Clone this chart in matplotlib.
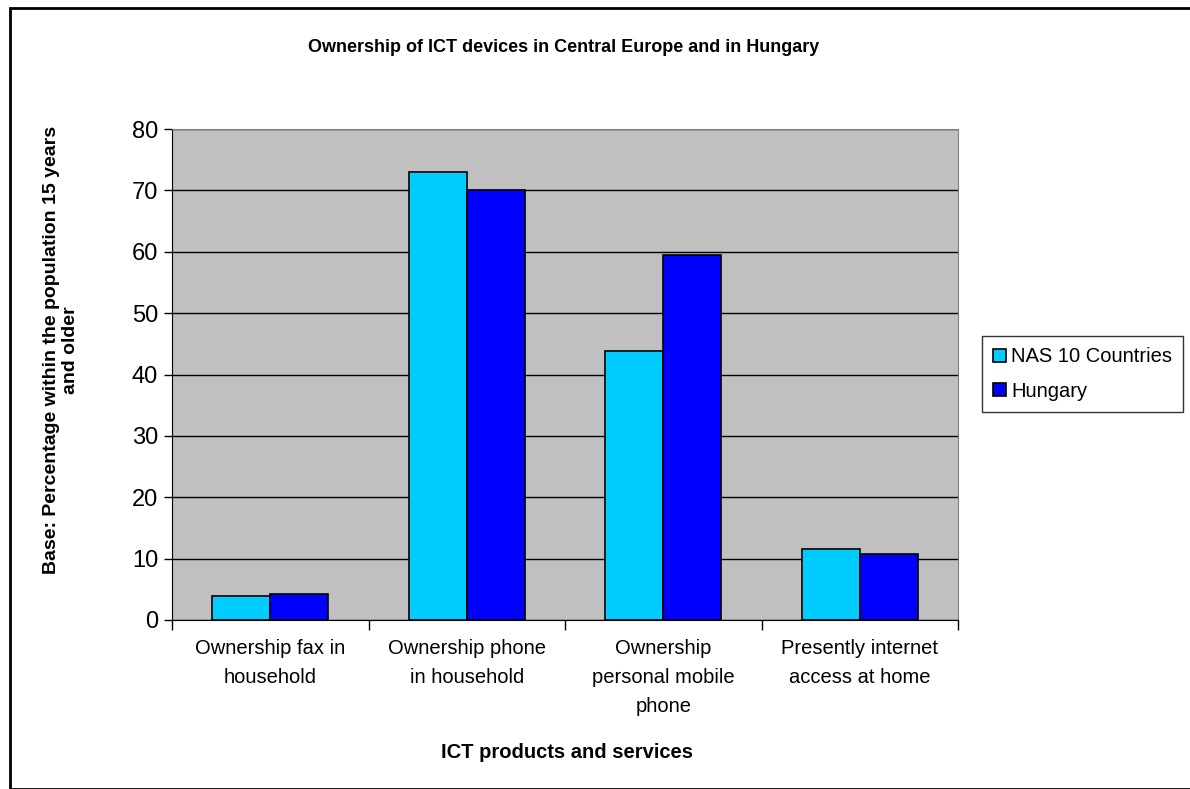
import numpy as np
import matplotlib.pyplot as plt
from matplotlib.patches import Rectangle

plt.rcParams['font.family'] = ['Liberation Sans', 'DejaVu Sans']

categories = ["Ownership fax in\nhousehold", "Ownership phone\nin household",
              "Ownership\npersonal mobile\nphone", "Presently internet\naccess at home"]
nas = [3.9, 73.0, 43.8, 11.5]
hungary = [4.3, 70.0, 59.5, 10.8]
series_names = ["NAS 10 Countries", "Hungary"]

fig = plt.figure(figsize=(11.9, 7.89), dpi=100)
fig.patches.append(Rectangle((10/1190, 0), 1.2, 1 - 8/789, transform=fig.transFigure,
                             fill=False, edgecolor='black', linewidth=2))

ax = fig.add_axes([172/1190, 1 - 620/789, 786/1190, 491/789])
ax.set_facecolor('#C0C0C0')

x = np.arange(len(categories))
w = 0.295
ax.bar(x - w/2, nas, w, color='#00CCFF', edgecolor='black', linewidth=1.2,
       label=series_names[0], zorder=3)
ax.bar(x + w/2, hungary, w, color='#0000FF', edgecolor='black', linewidth=1.2,
       label=series_names[1], zorder=3)

ax.set_xlim(-0.5, len(categories) - 0.5)
ax.set_ylim(0, 80)
ax.set_yticks(range(0, 81, 10))
ax.tick_params(axis='y', labelsize=17, length=6, width=1, direction='out', pad=4)
ax.grid(axis='y', color='black', linewidth=1, zorder=0)

ax.set_xticks(np.arange(-0.5, len(categories), 1))
ax.set_xticklabels([])
ax.set_xticks(x, minor=True)
ax.set_xticklabels(categories, minor=True, fontsize=14.5, linespacing=1.65)
ax.tick_params(axis='x', which='major', length=7, width=1)
ax.tick_params(axis='x', which='minor', length=0, pad=14)

for s in ['top', 'right']:
    ax.spines[s].set_color('#808080')
for s in ['left', 'bottom']:
    ax.spines[s].set_color('black')

fig.text(567/1190, 1 - 752/789, "ICT products and services",
         ha='center', va='center', fontsize=14.5, fontweight='bold')
fig.text(61/1190, 1 - 350/789, "Base: Percentage within the population 15 years\nand older",
         ha='center', va='center', rotation=90, fontsize=14, fontweight='bold',
         linespacing=1.08)
fig.text(564/1190, 1 - 48/789, "Ownership of ICT devices in Central Europe and in Hungary",
         ha='center', va='center', fontsize=13, fontweight='bold')

leg = ax.legend(loc='center left', bbox_to_anchor=(982/1190, 1 - 374/789),
                bbox_transform=fig.transFigure, fontsize=14.5, frameon=True,
                fancybox=False, edgecolor='black', handlelength=0.65, handleheight=0.65,
                handletextpad=0.25, labelspacing=0.75, borderpad=0.55, borderaxespad=0)
leg.get_frame().set_linewidth(1)

fig.savefig("out.png", dpi=100)
